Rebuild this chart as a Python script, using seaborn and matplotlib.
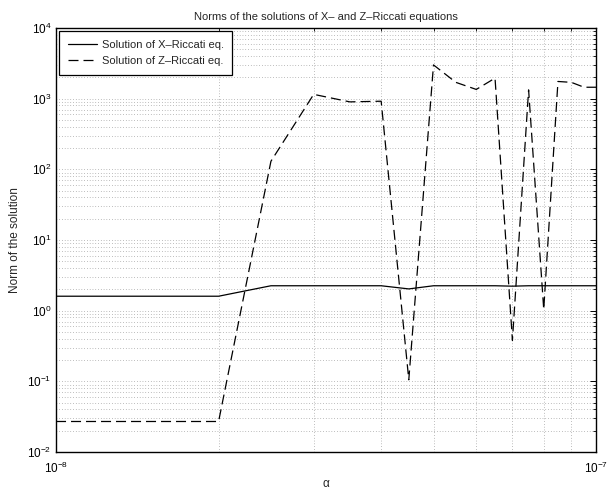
import numpy as np
import pandas as pd
import matplotlib
matplotlib.use("Agg")
import matplotlib.pyplot as plt
import matplotlib.ticker as mticker
import seaborn as sns

# alpha grid and the norms of both Riccati solutions
alpha = np.array([1.0, 1.5, 2.0, 2.5, 3.0, 3.5, 4.0, 4.5, 5.0, 5.5,
                  6.0, 6.5, 7.0, 7.5, 8.0, 8.5, 9.0, 9.5, 10.0]) * 1e-8
x_norm = [1.6, 1.6, 1.6, 2.25, 2.25, 2.25, 2.25, 2.03, 2.25, 2.25,
          2.25, 2.25, 2.22, 2.25, 2.25, 2.25, 2.25, 2.25, 2.25]
z_norm = [0.027, 0.027, 0.027, 130, 1150, 900, 920, 0.105, 3000, 1700,
          1350, 1950, 0.38, 1330, 1.04, 1750, 1700, 1450, 1450]
labels = ["Solution of X\u2013Riccati eq.", "Solution of Z\u2013Riccati eq."]

df = pd.DataFrame({
    "alpha": np.concatenate([alpha, alpha]),
    "norm": np.concatenate([x_norm, z_norm]),
    "series": [labels[0]] * len(alpha) + [labels[1]] * len(alpha),
})

sns.set_style("white")
plt.rcParams["font.family"] = ["Liberation Sans", "DejaVu Sans"]
plt.rcParams["mathtext.fontset"] = "custom"
plt.rcParams["mathtext.rm"] = "Liberation Sans"
plt.rcParams["mathtext.it"] = "Liberation Sans:italic"

fig = plt.figure(figsize=(6.07, 4.90), dpi=100)
ax = fig.add_axes([0.0923, 0.0776, 0.8897, 0.8653])

sns.lineplot(data=df, x="alpha", y="norm", style="series",
             dashes={labels[0]: "", labels[1]: (8, 4)},
             color="black", linewidth=0.9, estimator=None, sort=False,
             ax=ax)

ax.set_xscale("log")
ax.set_yscale("log")
ax.set_xlim(1e-8, 1e-7)
ax.set_ylim(1e-2, 1e4)

ax.xaxis.set_major_locator(mticker.LogLocator(base=10))
ax.xaxis.set_minor_locator(mticker.LogLocator(base=10, subs=np.arange(2, 10)))
ax.xaxis.set_minor_formatter(mticker.NullFormatter())
ax.yaxis.set_major_locator(mticker.LogLocator(base=10, numticks=10))
ax.yaxis.set_minor_locator(mticker.LogLocator(base=10, subs=np.arange(2, 10), numticks=20))
ax.yaxis.set_minor_formatter(mticker.NullFormatter())
ax.xaxis.get_offset_text().set_visible(False)
ax.yaxis.get_offset_text().set_visible(False)

ax.grid(True, which="both", color="0.5", linestyle=(0, (1, 3)), linewidth=0.5)
ax.tick_params(which="both", direction="in", top=True, right=True,
               labelsize=8.5, colors="black")
ax.tick_params(which="major", length=4, width=0.7)
ax.tick_params(which="minor", length=2, width=0.6)
ax.tick_params(axis="x", which="major", pad=6)
for sp in ax.spines.values():
    sp.set_visible(True)
    sp.set_color("black")
    sp.set_linewidth(1.0)

ax.set_title("Norms of the solutions of X\u2013 and Z\u2013Riccati equations",
             fontsize=8, pad=6)
ax.set_xlabel("\u03b1", fontsize=8.5, labelpad=2)
ax.set_ylabel("Norm of the solution", fontsize=8.5, labelpad=4)

handles, labs = ax.get_legend_handles_labels()
pairs = [(h, l) for h, l in zip(handles, labs) if l in labels]
leg = ax.legend([p[0] for p in pairs], [p[1] for p in pairs], loc="upper left",
                fontsize=8, frameon=True, fancybox=False, framealpha=1,
                edgecolor="black", borderaxespad=0.3, handlelength=2.6,
                handletextpad=0.5, borderpad=0.75, labelspacing=0.6)
leg.get_frame().set_linewidth(0.9)

fig.savefig("out.png", dpi=100)
